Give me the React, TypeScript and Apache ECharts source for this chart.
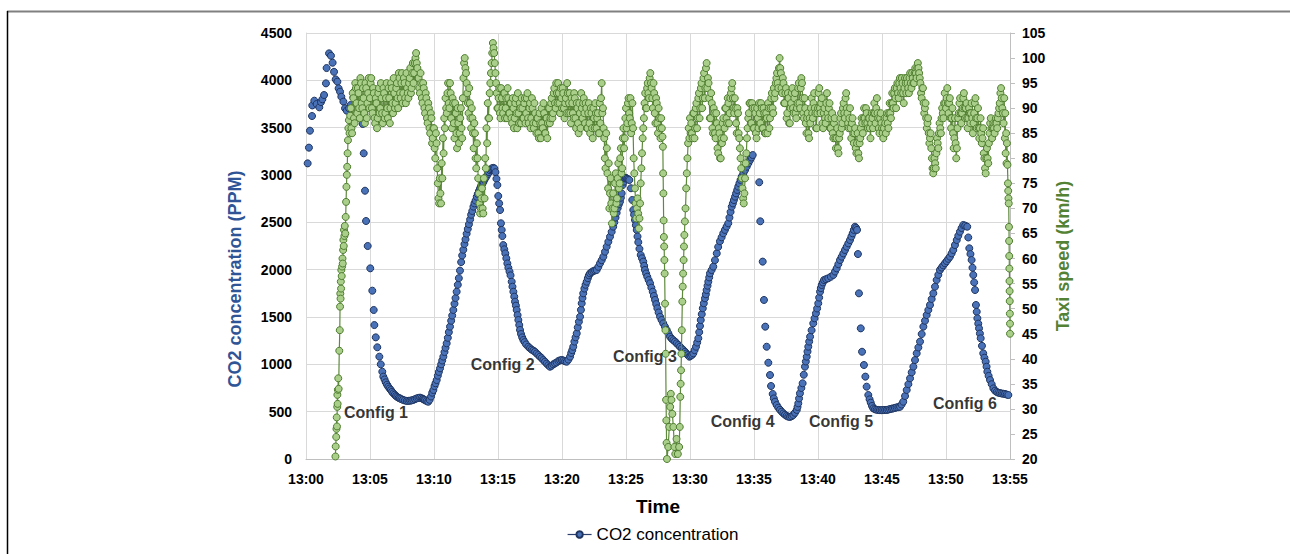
import React, { useEffect, useRef } from "react";
import * as echarts from "echarts";

const FONT = "'Liberation Sans', Arial, sans-serif";

// X axis: minutes after 13:00
const timeTicksMin = 0;
const timeTicksMax = 55;
const timeTickStep = 5;

// CO2 concentration readings: [minutes after 13:00, ppm]
const co2Readings: [number, number][] = [
  [0.13, 3123], [0.23, 3289], [0.31, 3468], [0.47, 3623], [0.49, 3735], [0.65, 3785], [0.83, 3750],
  [1.04, 3715], [1.17, 3770], [1.28, 3800], [1.41, 3845], [1.56, 3968], [1.61, 4130], [1.8, 4285],
  [1.95, 4260], [2.08, 4186], [2.19, 4090], [2.32, 4010], [2.45, 3986], [2.55, 3915], [2.66, 3880],
  [2.76, 3827], [2.92, 3775], [3.05, 3705], [3.18, 3680], [3.36, 3705], [3.49, 3740], [3.7, 3820],
  [3.83, 3890],
  [4.43, 3539], [4.51, 3229], [4.61, 2834], [4.69, 2514], [4.82, 2250], [5.02, 2014], [5.18, 1778],
  [5.29, 1574], [5.34, 1415], [5.45, 1285], [5.57, 1180], [5.73, 1081], [5.84, 1000], [5.96, 922],
  [6.04, 870], [6.14, 840], [6.23, 810], [6.33, 785], [6.43, 764], [6.53, 745], [6.63, 728],
  [6.72, 710], [6.82, 694], [6.93, 680], [7.03, 665], [7.13, 655], [7.24, 646], [7.34, 640],
  [7.45, 632], [7.58, 625], [7.72, 618], [7.87, 613], [8.0, 614], [8.13, 616], [8.25, 619],
  [8.38, 624], [8.52, 632], [8.65, 640], [8.78, 645], [8.91, 648], [9.03, 642], [9.14, 635],
  [9.22, 628], [9.3, 622], [9.42, 612], [9.55, 605], [9.66, 625], [9.77, 660],
  [9.86, 700], [9.95, 729], [10.04, 770], [10.12, 800], [10.21, 834], [10.3, 880], [10.38, 920],
  [10.47, 958], [10.56, 1000], [10.64, 1040], [10.73, 1081], [10.82, 1130], [10.9, 1175], [10.99, 1222],
  [11.08, 1280], [11.16, 1340], [11.25, 1398], [11.34, 1460], [11.42, 1515], [11.51, 1574], [11.6, 1640],
  [11.68, 1700], [11.77, 1767], [11.86, 1840], [11.94, 1910], [12.03, 1990], [12.12, 2080], [12.2, 2150],
  [12.29, 2210], [12.38, 2270], [12.46, 2320], [12.55, 2380], [12.64, 2430], [12.73, 2480], [12.82, 2530],
  [12.9, 2580], [12.99, 2620], [13.08, 2665], [13.16, 2700], [13.25, 2730], [13.34, 2770], [13.42, 2800],
  [13.51, 2830], [13.6, 2860], [13.68, 2885], [13.77, 2905], [13.86, 2925], [13.94, 2950], [14.03, 2970],
  [14.12, 2990], [14.2, 3010], [14.29, 3030], [14.38, 3050], [14.46, 3062], [14.55, 3072], [14.64, 3075],
  [14.72, 3068], [14.8, 3030], [14.88, 2960], [14.95, 2894], [15.02, 2778], [15.09, 2700], [15.16, 2630],
  [15.23, 2490], [15.29, 2420], [15.34, 2355], [15.41, 2260], [15.49, 2215], [15.57, 2172], [15.65, 2120],
  [15.73, 2066], [15.81, 2020], [15.9, 1980], [15.98, 1940], [16.07, 1873], [16.13, 1820], [16.2, 1767],
  [16.27, 1715], [16.33, 1662], [16.4, 1620], [16.46, 1574], [16.53, 1520], [16.59, 1468], [16.66, 1415],
  [16.72, 1363], [16.8, 1320], [16.89, 1285], [16.98, 1257], [17.08, 1235], [17.2, 1210], [17.37, 1186],
  [17.5, 1170], [17.63, 1155], [17.76, 1145], [17.89, 1133], [18.02, 1115], [18.15, 1098], [18.28, 1081],
  [18.41, 1065], [18.54, 1045], [18.67, 1028], [18.8, 1008], [18.93, 990], [19.06, 975], [19.19, 985],
  [19.32, 1000], [19.45, 1010], [19.58, 1020], [19.72, 1035], [19.85, 1042], [19.98, 1046], [20.11, 1040],
  [20.24, 1032], [20.37, 1028], [20.5, 1050], [20.63, 1081], [20.72, 1120], [20.8, 1150], [20.88, 1186],
  [20.97, 1240], [21.06, 1285], [21.15, 1327], [21.23, 1390], [21.32, 1450], [21.41, 1503], [21.48, 1575],
  [21.54, 1644], [21.6, 1700], [21.66, 1750], [21.75, 1800], [21.84, 1840], [21.93, 1873], [22.02, 1910],
  [22.1, 1940], [22.19, 1961], [22.32, 1975], [22.45, 1985], [22.58, 1992], [22.71, 1997], [22.84, 2030],
  [22.97, 2067], [23.1, 2100], [23.23, 2137], [23.36, 2190], [23.49, 2243], [23.62, 2295], [23.75, 2348],
  [23.88, 2400], [24.0, 2454], [24.09, 2500], [24.18, 2550], [24.27, 2600], [24.35, 2650], [24.44, 2690],
  [24.53, 2718], [24.6, 2760], [24.66, 2806], [24.74, 2894], [24.83, 2930], [24.92, 2965], [25.0, 2970],
  [25.09, 2960], [25.18, 2955], [25.26, 2947], [25.39, 2860], [25.49, 2736], [25.57, 2630], [25.63, 2580],
  [25.7, 2525], [25.77, 2470], [25.84, 2419], [25.9, 2350], [25.96, 2290], [26.05, 2220], [26.15, 2155],
  [26.25, 2120], [26.35, 2085], [26.42, 2040], [26.48, 1997], [26.57, 1960], [26.66, 1926], [26.77, 1890],
  [26.88, 1856], [26.98, 1810], [27.09, 1767], [27.18, 1722], [27.27, 1680], [27.36, 1636], [27.45, 1592],
  [27.55, 1548], [27.66, 1503], [27.78, 1468], [27.91, 1433], [28.04, 1398], [28.18, 1363], [28.31, 1327],
  [28.44, 1292], [28.57, 1270], [28.7, 1255], [28.83, 1240], [28.96, 1222], [29.09, 1204], [29.22, 1186],
  [29.35, 1168], [29.48, 1150], [29.61, 1133], [29.72, 1115], [29.84, 1098], [29.95, 1081], [30.05, 1090],
  [30.16, 1100], [30.26, 1116], [30.36, 1150], [30.47, 1186], [30.56, 1230], [30.65, 1275], [30.72, 1340],
  [30.78, 1405], [30.84, 1468], [30.92, 1530], [31.0, 1592], [31.08, 1645], [31.17, 1697], [31.24, 1740],
  [31.3, 1785], [31.37, 1830], [31.43, 1873], [31.5, 1918], [31.56, 1961], [31.69, 1996], [31.82, 2032],
  [31.95, 2100], [32.09, 2172], [32.2, 2240], [32.34, 2300], [32.47, 2342], [32.6, 2384], [32.73, 2420],
  [32.86, 2455], [32.99, 2490], [33.08, 2550], [33.17, 2610], [33.26, 2665], [33.35, 2700], [33.43, 2735],
  [33.52, 2771], [33.6, 2806], [33.69, 2842], [33.77, 2877], [33.86, 2912], [33.95, 2948], [34.04, 2983],
  [34.17, 3018], [34.3, 3053], [34.43, 3088], [34.56, 3123], [34.69, 3158], [34.8, 3185], [34.9, 3211],
  [35.41, 2923], [35.49, 2511], [35.68, 2085], [35.78, 1680], [35.88, 1398], [35.99, 1186], [36.12, 1017],
  [36.25, 887], [36.33, 771], [36.46, 687], [36.55, 640], [36.64, 605], [36.77, 570], [36.9, 542],
  [37.03, 520], [37.16, 500], [37.29, 482], [37.42, 468], [37.55, 455], [37.68, 447], [37.81, 445],
  [37.94, 452], [38.07, 465], [38.2, 488], [38.34, 518], [38.4, 550], [38.46, 588], [38.52, 640],
  [38.59, 694], [38.7, 750], [38.8, 800], [38.89, 890], [38.98, 975], [39.05, 1030], [39.12, 1081],
  [39.18, 1135], [39.24, 1186], [39.31, 1240], [39.38, 1292], [39.5, 1360], [39.63, 1433], [39.73, 1486],
  [39.84, 1539], [39.93, 1590], [40.02, 1644], [40.09, 1705], [40.16, 1767], [40.22, 1805], [40.29, 1838],
  [40.38, 1865], [40.47, 1891], [40.63, 1900], [40.8, 1909], [41.0, 1925], [41.2, 1944], [41.33, 1980],
  [41.46, 2014], [41.59, 2058], [41.72, 2102], [41.85, 2137], [41.98, 2172], [42.11, 2208], [42.24, 2243],
  [42.37, 2278], [42.5, 2313], [42.61, 2350], [42.71, 2384], [42.8, 2420], [42.89, 2454], [42.98, 2440],
  [43.05, 2420], [43.12, 2165], [43.2, 1750], [43.34, 1380], [43.44, 1133], [43.59, 993], [43.7, 870],
  [43.8, 764], [43.93, 676], [44.03, 630], [44.12, 595], [44.22, 560], [44.32, 535], [44.45, 525],
  [44.58, 520], [44.71, 518], [44.84, 516], [44.97, 516], [45.1, 517], [45.24, 518], [45.37, 518],
  [45.5, 522], [45.63, 527], [45.76, 531], [45.88, 535], [46.01, 540], [46.14, 545], [46.28, 548],
  [46.41, 552], [46.53, 575], [46.66, 605], [46.8, 665], [46.93, 729], [47.06, 790], [47.19, 852],
  [47.32, 915], [47.45, 975], [47.58, 1045], [47.71, 1116], [47.84, 1178], [47.97, 1240], [48.1, 1320],
  [48.23, 1398], [48.36, 1460], [48.49, 1521], [48.62, 1574], [48.75, 1627], [48.88, 1690], [49.01, 1750],
  [49.14, 1820], [49.27, 1891], [49.4, 1945], [49.53, 1997], [49.66, 2022], [49.79, 2045], [49.92, 2067],
  [50.05, 2090], [50.18, 2114], [50.31, 2137], [50.44, 2172], [50.57, 2208], [50.7, 2260], [50.84, 2313],
  [50.96, 2358], [51.09, 2401], [51.22, 2440], [51.35, 2472], [51.5, 2465], [51.66, 2454], [51.74, 2340],
  [51.82, 2226], [51.91, 2165], [52.0, 2102], [52.07, 2020], [52.13, 1944], [52.2, 1865], [52.27, 1785],
  [52.34, 1627], [52.4, 1555], [52.45, 1486], [52.52, 1430], [52.58, 1380], [52.65, 1325], [52.71, 1275],
  [52.81, 1195], [52.91, 1116], [53.0, 1070], [53.1, 1028], [53.17, 975], [53.23, 922], [53.33, 878],
  [53.44, 834], [53.57, 790], [53.7, 746], [53.83, 722], [53.96, 708], [54.09, 700], [54.22, 696],
  [54.35, 692], [54.48, 689], [54.61, 687], [54.74, 681], [54.87, 676],
];

// Taxi speed (km/h): fast ramp at start, explicit [minutes, km/h]
const speedRamp: [number, number][] = [
  [2.3, 20.5], [2.32, 22.5], [2.36, 24.4], [2.38, 26.0], [2.4, 28.3], [2.42, 26.5], [2.44, 30.4],
  [2.45, 32.8], [2.47, 31.0], [2.49, 33.8], [2.52, 36.1], [2.55, 34.0], [2.6, 41.6], [2.64, 45.7],
  [2.66, 50.4], [2.68, 53.0], [2.7, 52.0], [2.72, 55.4], [2.74, 54.0], [2.76, 57.7], [2.79, 56.5],
  [2.82, 58.4], [2.85, 60.0], [2.87, 59.0], [2.9, 61.7], [2.92, 63.7], [2.95, 62.5], [2.97, 65.7],
  [3.0, 64.5], [3.03, 66.5], [3.07, 65.0], [3.1, 68.3], [3.13, 71.3], [3.16, 74.3], [3.19, 76.7],
  [3.22, 78.3], [3.25, 81.0], [3.28, 83.6], [3.31, 86.0], [3.35, 87.6], [3.4, 85.0], [3.45, 88.5],
];

// Taxi speed every 0.1 min from 13:03.50 (first pass) and from 13:03.55 (second pass)
const speedStep = 0.1;
const speedAStart = 3.5;
const speedA: number[] = [
  90, 85, 92, 87, 94,
  89, 93, 88, 95, 90, 92, 87, 94, 91, 96,
  92, 96, 89, 93, 87, 91, 88, 94, 90, 92,
  87, 93, 89, 95, 88, 92, 90, 94, 89, 93,
  91, 95, 90, 96, 92, 97, 93, 95, 91, 94,
  92, 96, 93, 97, 95, 99, 101, 98, 96, 93,
  95, 91, 94, 89, 92, 87, 90, 85, 88, 84,
  86, 80, 83, 75, 71, 73, 79, 84, 88, 92,
  89, 95, 90, 93, 86, 91, 84, 89, 82, 87,
  85, 90, 84, 96, 100, 97, 93, 89, 91, 86,
  88, 82, 85, 78, 80, 73, 69, 72, 70, 76,
  80, 86, 91, 88, 95, 99, 103, 101, 97, 93,
  90, 94, 88, 92, 89, 93, 90, 88, 92, 89,
  91, 87, 90, 88, 92, 86, 89, 91, 87, 90,
  88, 92, 89, 93, 87, 91, 88, 90, 86, 89,
  85, 88, 84, 87, 90, 86, 89, 85, 88, 87,
  90, 88, 92, 89, 94, 90, 93, 95, 91, 94,
  90, 93, 88, 92, 95, 89, 93, 87, 91, 88,
  92, 86, 90, 85, 89, 93, 88, 92, 87, 90,
  86, 91, 85, 89, 84, 88, 91, 86, 89, 85,
  87, 95, 90, 84, 78, 82, 74, 70, 76, 67,
  73, 70, 77, 72, 79, 75, 82, 78, 86, 84,
  90, 87, 92, 88, 85, 91, 80, 74, 68, 72,
  66, 71, 78, 84, 88, 93, 90, 95, 92, 97,
  94, 90, 93, 87, 91, 85, 88, 84, 86,
];
const speedA2Start = 3.55;
const speedA2: number[] = [
  86, 93, 88, 95, 91,
  94, 90, 96, 91, 94, 89, 95, 88, 93, 90,
  95, 90, 94, 88, 92, 86, 93, 89, 95, 89,
  94, 88, 92, 90, 94, 87, 95, 91, 96, 90,
  94, 92, 97, 93, 95, 91, 96, 92, 97, 93,
  95, 98, 94, 99, 97, 100, 99, 96, 94, 97,
  92, 95, 90, 93, 88, 91, 86, 89, 83, 86,
  82, 85, 78, 72, 76, 71, 76, 81, 86, 90,
  93, 91, 95, 88, 92, 87, 91, 85, 90, 83,
  88, 86, 92, 99, 98, 95, 91, 94, 88, 90,
  85, 87, 80, 83, 76, 71, 70, 74, 69, 72,
  78, 83, 88, 93, 97, 101, 102, 99, 95, 90,
  92, 89, 94, 90, 93, 88, 92, 94, 89, 91,
  88, 92, 86, 91, 89, 93, 87, 90, 92, 88,
  91, 87, 92, 88, 90, 86, 92, 87, 91, 87,
  88, 85, 89, 84, 87, 91, 85, 88, 84, 90,
  87, 91, 88, 93, 91, 95, 91, 93, 89, 92,
  94, 90, 91, 89, 93, 91, 89, 92, 89, 93,
  88, 91, 87, 91, 86, 90, 91, 89, 91, 86,
  89, 87, 90, 86, 90, 86, 89, 88, 85, 91,
  92, 89, 86, 80, 85, 77, 79, 73, 71, 70,
  69, 75, 71, 76, 74, 80, 77, 84, 82, 88,
  86, 91, 89, 92, 87, 86, 77, 71, 70, 69,
  68, 75, 81, 86, 91, 90, 94, 93, 96, 95,
  92, 95, 89, 92, 87, 90, 86, 88,
];

// Taxi speed drop around 13:28-13:30, explicit [minutes, km/h]
const speedDrop: [number, number][] = [
  [27.85, 84.3], [27.88, 82.3], [27.9, 77], [27.92, 73], [27.94, 67.6], [27.96, 64.3], [27.98, 62.4],
  [28.0, 59.7], [28.02, 57], [28.05, 51], [28.08, 45.7], [28.1, 41], [28.13, 31.8], [28.15, 27.7],
  [28.17, 23.2], [28.2, 20], [28.3, 22.4], [28.38, 26.4], [28.45, 30.4], [28.5, 33], [28.55, 31.8],
  [28.62, 29], [28.7, 26.4], [28.78, 22.4], [28.85, 21], [28.95, 24], [29.05, 21], [29.15, 22.4],
  [29.2, 26.4], [29.24, 32.4], [29.27, 35], [29.3, 37.7], [29.33, 41], [29.36, 45.7], [29.4, 51.4],
  [29.43, 54.4], [29.46, 57], [29.5, 59.7], [29.53, 62.4], [29.56, 64.7], [29.6, 67.4], [29.65, 70],
  [29.7, 74], [29.75, 77], [29.8, 80], [29.85, 83], [29.9, 86], [29.95, 84], [30.0, 88], [30.05, 85],
];

// Taxi speed every 0.1 min from 13:30.10 (first pass) and from 13:30.15 (second pass)
const speedBStart = 30.1;
const speedB: number[] = [
  87, 84, 89, 86, 91, 88, 93, 90, 95,
  92, 97, 94, 99, 96, 92, 88, 91, 85, 89,
  84, 87, 81, 85, 80, 83, 88, 86, 90, 87,
  91, 89, 93, 95, 90, 92, 87, 90, 85, 82,
  78, 74, 71, 76, 81, 86, 89, 91, 87, 90,
  86, 89, 84, 88, 91, 87, 90, 86, 89, 85,
  88, 91, 86, 90, 93, 89, 92, 95, 97, 94,
  100, 97, 93, 95, 91, 94, 89, 92, 87, 91,
  94, 89, 93, 88, 91, 95, 90, 96, 92, 88,
  90, 85, 89, 84, 87, 92, 88, 93, 89, 86,
  90, 94, 89, 92, 86, 90, 87, 93, 88, 91,
  86, 89, 84, 88, 82, 86, 81, 85, 89, 87,
  91, 88, 93, 89, 86, 90, 84, 88, 83, 86,
  81, 85, 80, 84, 88, 85, 90, 87, 89, 86,
  88, 84, 89, 86, 91, 87, 92, 88, 85, 89,
  86, 84, 88, 85, 89, 86, 91, 88, 93, 90,
  94, 90, 95, 92, 96, 93, 95, 91, 96, 93,
  95, 93, 97, 94, 96, 95, 98, 96, 99, 97,
  95, 92, 94, 89, 91, 86, 88, 83, 85, 80,
  77, 80, 78, 84, 82, 87, 85, 90, 88, 93,
  90, 94, 89, 92, 86, 90, 82, 88, 80, 86,
  89, 92, 87, 90, 93, 88, 91, 86, 90, 87,
  91, 85, 89, 92, 86, 90, 84, 88, 83, 86,
  80, 77, 82, 79, 85, 88, 84, 87, 85, 88,
  86, 89, 91, 94, 90,
];
const speedB2Start = 30.15;
const speedB2: number[] = [
  85, 89, 84, 90, 86, 92, 88, 94, 90,
  96, 92, 98, 94, 95, 88, 93, 86, 90, 85,
  89, 82, 86, 80, 84, 87, 84, 90, 88, 92,
  87, 92, 94, 92, 89, 90, 85, 89, 84, 80,
  76, 72, 73, 79, 84, 88, 91, 87, 91, 86,
  90, 85, 90, 86, 89, 91, 86, 90, 85, 89,
  85, 90, 88, 92, 90, 94, 93, 96, 95, 98,
  98, 94, 96, 91, 93, 88, 93, 87, 90, 93,
  90, 92, 89, 90, 94, 91, 94, 95, 89, 92,
  87, 88, 85, 88, 90, 89, 91, 90, 86, 89,
  93, 90, 91, 87, 89, 88, 91, 89, 90, 86,
  88, 85, 87, 84, 84, 82, 84, 88, 86, 90,
  89, 92, 90, 87, 88, 86, 87, 85, 85, 82,
  83, 81, 83, 86, 87, 88, 88, 90, 87, 88,
  86, 87, 88, 89, 89, 90, 89, 86, 88, 87,
  85, 86, 87, 88, 87, 89, 89, 91, 91, 93,
  92, 94, 93, 95, 94, 96, 93, 94, 95, 96,
  94, 96, 95, 97, 95, 97, 97, 98, 98, 96,
  93, 94, 91, 90, 88, 87, 85, 84, 82, 78,
  78, 79, 81, 83, 85, 86, 88, 89, 91, 91,
  92, 91, 91, 88, 88, 85, 84, 83, 82, 88,
  91, 89, 89, 92, 90, 90, 88, 88, 89, 89,
  88, 87, 91, 88, 88, 86, 86, 85, 84, 81,
  78, 80, 80, 83, 87, 86, 86, 86, 87, 87,
  88, 90, 93, 92, 89,
];

// Taxi speed final fall, explicit [minutes, km/h]
const speedEnd: [number, number][] = [
  [54.5, 87], [54.55, 92], [54.6, 84], [54.63, 89], [54.66, 81], [54.7, 85], [54.73, 79],
  [54.76, 83], [54.8, 78.7], [54.84, 75], [54.86, 73.5], [54.88, 72], [54.9, 71], [54.92, 66.3],
  [54.93, 63.5], [54.94, 60.5], [54.95, 58], [54.96, 55.5], [54.97, 53.5], [54.98, 51.5],
  [54.99, 49], [55.0, 47], [55.0, 45],
];

// Annotations
const configLabels = ["Config 1", "Config 2", "Config 3", "Config 4", "Config 5", "Config 6"];
const configAnchors: [number, number][] = [
  [2.97, 486], [12.87, 993], [23.98, 1088], [31.62, 394], [39.3, 401], [48.98, 581],
];

const leftTitle = "CO2 concentration (PPM)";
const rightTitle = "Taxi speed (km/h)";

const round2 = (v: number) => Math.round(v * 100) / 100;
const toPairs = (start: number, vals: number[]) =>
  vals.map((v, i) => [round2(start + i * speedStep), v] as [number, number]);

export default function App() {
  const ref = useRef<HTMLDivElement>(null);

  useEffect(() => {
    if (!ref.current) return;
    const chart = echarts.init(ref.current, null, { renderer: "svg" });

    const segA = [...toPairs(speedAStart, speedA), ...toPairs(speedA2Start, speedA2)].sort((a, b) => a[0] - b[0]);
    const segB = [...toPairs(speedBStart, speedB), ...toPairs(speedB2Start, speedB2)].sort((a, b) => a[0] - b[0]);
    const speedOrdered: [number, number][] = [...speedRamp, ...segA, ...speedDrop, ...segB, ...speedEnd];

    chart.setOption({
      animation: false,
      backgroundColor: "#ffffff",
      textStyle: { fontFamily: FONT },
      grid: { left: 306, right: 280, top: 33, bottom: 95, containLabel: false },
      legend: {
        show: true,
        data: ["CO2 concentration"],
        left: 562,
        top: 521,
        itemWidth: 24,
        itemHeight: 8,
        textStyle: { fontSize: 17, color: "#000", fontFamily: FONT },
        lineStyle: { color: "#2A3F6E", width: 1.2, opacity: 1 },
      },
      xAxis: {
        type: "value",
        min: timeTicksMin,
        max: timeTicksMax,
        interval: timeTickStep,
        name: "Time",
        nameLocation: "middle",
        nameGap: 38,
        nameTextStyle: { fontSize: 19, fontWeight: "bold", color: "#000", fontFamily: FONT },
        axisLine: { show: true, lineStyle: { color: "#BFBFBF" } },
        axisTick: { show: false },
        axisLabel: {
          formatter: (v: number) => "13:" + String(Math.round(v)).padStart(2, "0"),
          fontSize: 14,
          fontWeight: "bold",
          color: "#000",
          margin: 13,
          fontFamily: FONT,
        },
        splitLine: { show: true, lineStyle: { color: "#D9D9D9" } },
      },
      yAxis: [
        {
          type: "value",
          min: 0,
          max: 4500,
          interval: 500,
          axisLine: { show: true, lineStyle: { color: "#D9D9D9" } },
          axisTick: { show: false },
          axisLabel: {
            formatter: (v: number) => String(v),
            fontSize: 14,
            fontWeight: "bold",
            color: "#000",
            margin: 14,
            fontFamily: FONT,
          },
          splitLine: { show: true, lineStyle: { color: "#D9D9D9" } },
        },
        {
          type: "value",
          position: "right",
          min: 20,
          max: 105,
          interval: 5,
          axisLine: { show: true, lineStyle: { color: "#BFBFBF" } },
          axisTick: { show: true, length: 5, lineStyle: { color: "#BFBFBF" } },
          axisLabel: { fontSize: 14, fontWeight: "bold", color: "#000", margin: 12, fontFamily: FONT },
          splitLine: { show: false },
        },
      ],
      series: [
        {
          name: "CO2 concentration",
          type: "line",
          yAxisIndex: 0,
          data: co2Readings,
          symbol: "circle",
          symbolSize: 7,
          showSymbol: true,
          lineStyle: { opacity: 0, width: 0 },
          itemStyle: { color: "#4A72B8", borderColor: "#1F3560", borderWidth: 1 },
          emphasis: { disabled: true },
          z: 2,
        },
        {
          name: "Taxi speed",
          type: "line",
          yAxisIndex: 1,
          data: speedOrdered,
          symbol: "circle",
          symbolSize: 7,
          showSymbol: true,
          lineStyle: { color: "#5E8A3C", width: 1.2 },
          itemStyle: { color: "#A9CF8A", borderColor: "#4F7D2F", borderWidth: 1 },
          emphasis: { disabled: true },
          z: 3,
        },
        {
          name: "labels",
          type: "scatter",
          yAxisIndex: 0,
          data: configAnchors,
          symbolSize: 0.01,
          itemStyle: { color: "rgba(0,0,0,0)" },
          label: {
            show: true,
            formatter: (p: any) => configLabels[p.dataIndex],
            position: "inside",
            align: "left",
            verticalAlign: "middle",
            fontSize: 16,
            fontWeight: "bold",
            color: "#000",
            fontFamily: FONT,
          },
          emphasis: { disabled: true },
          z: 5,
        },
      ],
      graphic: [
        { type: "line", shape: { x1: 7, y1: 11.5, x2: 1290, y2: 11.5 }, style: { stroke: "#808080", lineWidth: 2 } },
        { type: "line", shape: { x1: 7.5, y1: 11, x2: 7.5, y2: 554 }, style: { stroke: "#000", lineWidth: 1.5 } },
        {
          type: "text",
          x: 235,
          y: 279,
          rotation: Math.PI / 2,
          style: {
            text: leftTitle,
            align: "center",
            verticalAlign: "middle",
            font: "bold 18px 'Liberation Sans', Arial, sans-serif",
            fill: "#2F5597",
          },
        },
        {
          type: "text",
          x: 1063,
          y: 256,
          rotation: Math.PI / 2,
          style: {
            text: rightTitle,
            align: "center",
            verticalAlign: "middle",
            font: "bold 18px 'Liberation Sans', Arial, sans-serif",
            fill: "#548235",
          },
        },
      ],
    });

    return () => chart.dispose();
  }, []);

  return (
    <div
      ref={ref}
      style={{ position: "fixed", left: 0, top: 0, width: 1290, height: 554, background: "#fff" }}
    />
  );
}
